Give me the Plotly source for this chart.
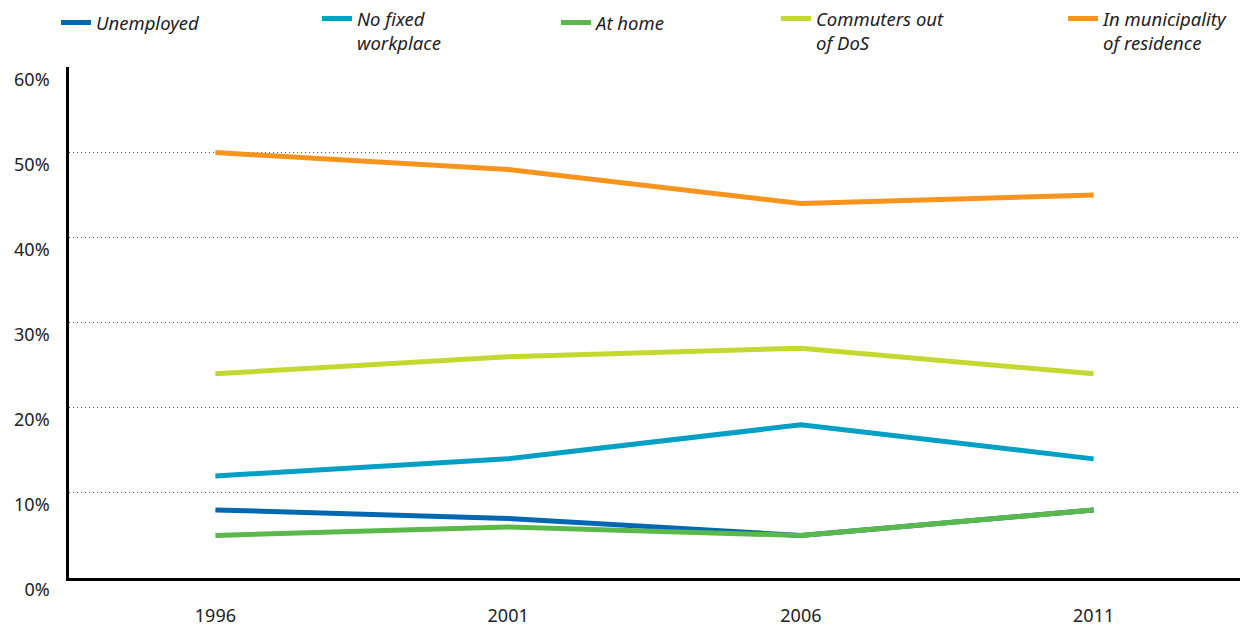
import plotly.graph_objects as go

years = ["1996", "2001", "2006", "2011"]
unemployed = [8, 7, 5, 8]
no_fixed = [12, 14, 18, 14]
at_home = [5, 6, 5, 8]
commuters = [24, 26, 27, 24]
municipality = [50, 48, 44, 45]

series = [
    ("Unemployed", unemployed, "#0068b0"),
    ("No fixed<br>workplace", no_fixed, "#00a0c4"),
    ("At home", at_home, "#5ab94a"),
    ("Commuters out<br>of DoS", commuters, "#c3d831"),
    ("In municipality<br>of residence", municipality, "#f7941e"),
]

W, H = 1249, 627
font_family = "Noto Sans, Open Sans, sans-serif"
text_x = [100, 361, 600, 820, 1107]
two_line = [False, True, False, True, True]

fig = go.Figure()
legend_layouts = {}
for i, (name, vals, color) in enumerate(series):
    key = "legend" if i == 0 else f"legend{i + 1}"
    fig.add_trace(go.Scatter(x=years, y=vals, name=name, mode="lines",
                             legend=key,
                             line=dict(color=color, width=5)))
    top_px = 0 if two_line[i] else 4
    legend_layouts[key] = dict(
        xref="container", yref="container",
        x=(text_x[i] - 44) / W, y=1 - top_px / H,
        xanchor="left", yanchor="top", valign="top",
        bgcolor="rgba(0,0,0,0)",
        font=dict(family=font_family, size=18.5, color="#222222", style="italic"),
    )

fig.update_layout(
    width=W, height=H,
    margin=dict(l=69, r=9, t=67, b=49, autoexpand=False),
    plot_bgcolor="white", paper_bgcolor="white",
    font=dict(family=font_family, size=18, color="#222222"),
    showlegend=True,
    xaxis=dict(type="category", range=[-0.5, 3.5], showgrid=False, showline=True,
               linecolor="black", linewidth=2.5, ticks="", ticklabelstandoff=20,
               zeroline=False),
    yaxis=dict(range=[0, 60.05], tickvals=[0, 10, 20, 30, 40, 50, 60],
               ticktext=["0%", "10%", "20%", "30%", "40%", "50%", "60%"],
               showgrid=True, gridcolor="#555555", griddash="1px,3px", gridwidth=1,
               showline=True, linecolor="black", linewidth=2.5,
               ticks="", ticklabelshift=12, ticklabelstandoff=13, zeroline=False),
    **legend_layouts,
)

fig.write_html("out.html", config={"displayModeBar": False},
               post_script="document.body.style.margin='0px';")
